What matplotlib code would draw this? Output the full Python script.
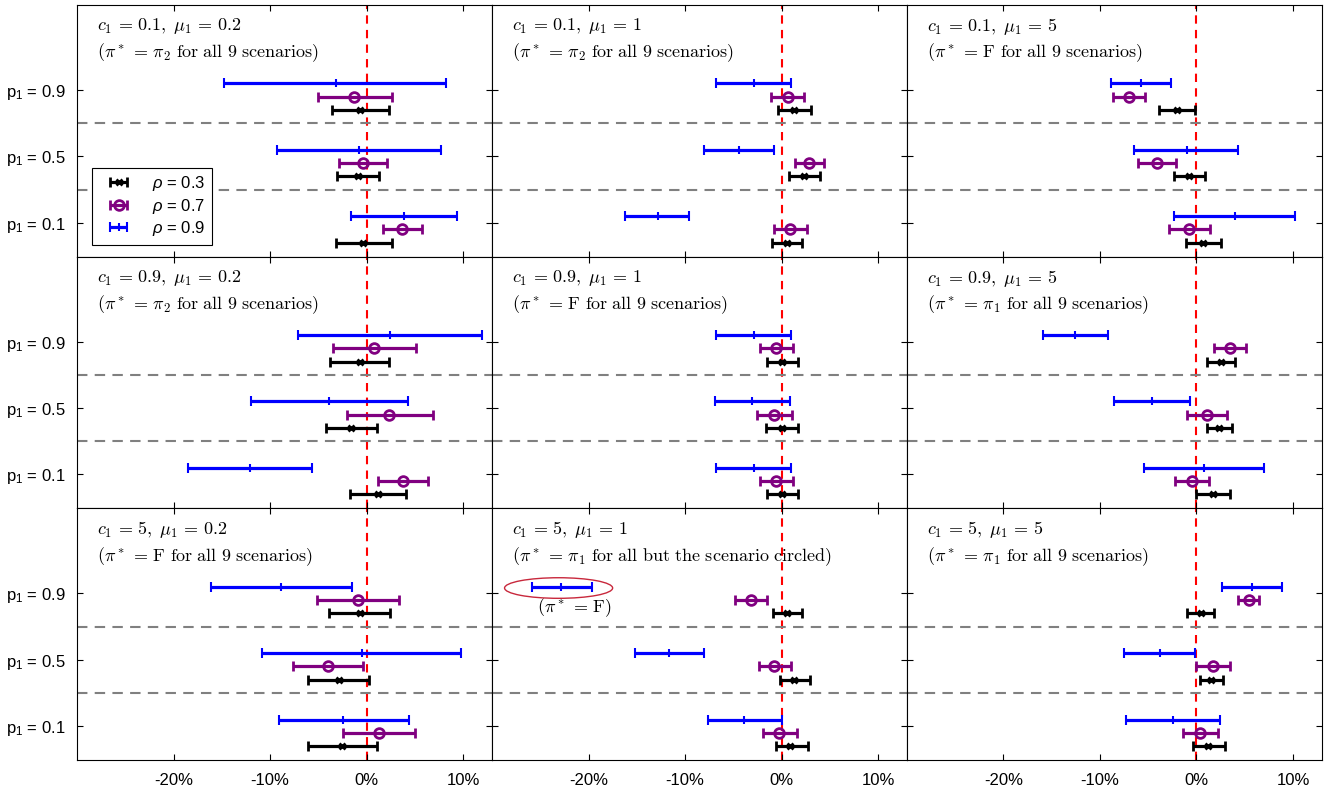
import matplotlib.pyplot as plt
from matplotlib.patches import Ellipse
from matplotlib.ticker import FuncFormatter

plt.rcParams['font.family'] = ['Liberation Sans', 'DejaVu Sans']
plt.rcParams['mathtext.fontset'] = 'custom'
plt.rcParams['mathtext.rm'] = 'Liberation Sans'
plt.rcParams['mathtext.it'] = 'Liberation Sans:italic'

# grid of settings: rows c1, columns mu1
c1_values = ['0.1', '0.9', '5']
mu1_values = ['0.2', '1', '5']
p1_labels = ['p$_1$ = 0.1', 'p$_1$ = 0.5', 'p$_1$ = 0.9']
optimal = [[r'\pi_2', r'\pi_2', r'\mathrm{F}'],
           [r'\pi_2', r'\mathrm{F}', r'\pi_1'],
           [r'\mathrm{F}', r'\pi_1', r'\pi_1']]
rho_labels = [r'$\rho$ = 0.3', r'$\rho$ = 0.7', r'$\rho$ = 0.9']

# per panel (row-major), per p1 (0.1, 0.5, 0.9): (low, mean, high) in %
rho03 = [
    [(-3.18, -0.35, 2.62), (-3.05, -0.93, 1.31), (-3.56, -0.69, 2.28)],
    [(-1.00, 0.52, 2.14), (0.79, 2.31, 4.00), (-0.38, 1.27, 3.04)],
    [(-1.07, 0.69, 2.56), (-2.31, -0.79, 0.87), (-3.87, -2.07, -0.14)],
    [(-1.73, 1.14, 4.08), (-4.21, -1.66, 1.04), (-3.77, -0.69, 2.35)],
    [(-1.55, 0.07, 1.73), (-1.59, 0.00, 1.73), (-1.55, 0.07, 1.73)],
    [(-0.07, 1.73, 3.52), (1.04, 2.35, 3.70), (1.11, 2.59, 4.04)],
    [(-6.11, -2.52, 1.04), (-6.11, -2.90, 0.28), (-3.90, -0.73, 2.45)],
    [(-0.55, 0.93, 2.73), (-0.14, 1.27, 2.93), (-0.90, 0.52, 2.14)],
    [(-0.34, 1.21, 2.94), (0.35, 1.55, 2.76), (-0.97, 0.45, 1.83)],
]
rho07 = [
    [(1.66, 3.69, 5.73), (-2.87, -0.35, 2.07), (-5.00, -1.28, 2.59)],
    [(-0.80, 0.93, 2.66), (1.38, 2.83, 4.38), (-1.04, 0.69, 2.38)],
    [(-2.83, -0.76, 1.45), (-6.01, -4.07, -2.14), (-8.63, -6.97, -5.32)],
    [(1.17, 3.73, 6.39), (-2.07, 2.35, 6.84), (-3.52, 0.79, 5.11)],
    [(-2.28, -0.55, 1.24), (-2.49, -0.73, 1.10), (-2.28, -0.55, 1.24)],
    [(-2.24, -0.48, 1.31), (-0.97, 1.04, 3.18), (1.80, 3.46, 5.08)],
    [(-2.42, 1.28, 5.01), (-7.63, -4.04, -0.38), (-5.18, -0.93, 3.38)],
    [(-1.94, -0.21, 1.59), (-2.35, -0.76, 1.00), (-4.84, -3.21, -1.55)],
    [(-1.38, 0.41, 2.21), (0.00, 1.73, 3.52), (4.29, 5.43, 6.50)],
]
rho09 = [
    [(-1.63, 3.87, 9.33), (-9.29, -0.80, 7.73), (-14.76, -3.21, 8.28)],
    [(-16.20, -12.85, -9.60), (-8.02, -4.39, -0.73), (-6.81, -2.87, 1.03)],
    [(-2.28, 4.01, 10.20), (-6.46, -1.03, 4.29), (-8.84, -5.77, -2.62)],
    [(-18.55, -12.09, -5.66), (-11.99, -3.87, 4.32), (-7.15, 2.42, 11.99)],
    [(-6.81, -2.87, 1.03), (-6.94, -3.04, 0.86), (-6.81, -2.87, 1.03)],
    [(-5.45, 0.80, 7.02), (-8.53, -4.56, -0.62), (-15.89, -12.54, -9.15)],
    [(-9.09, -2.42, 4.35), (-10.88, -0.52, 9.81), (-16.13, -8.85, -1.55)],
    [(-7.67, -3.91, 0.00), (-15.20, -11.65, -8.05), (-25.84, -22.80, -19.69)],
    [(-7.32, -2.42, 2.42), (-7.49, -3.83, -0.14), (2.69, 5.80, 8.91)],
]

series = [rho03, rho07, rho09]
colors = ['black', '#800080', '#0000ff']
offsets = [-0.3, -0.1, 0.1]
styles = [dict(marker='x', ms=4, mew=2),
          dict(marker='o', ms=7, mew=2, mfc='none'),
          dict(marker='|', ms=6, mew=1.5)]

fig, axes = plt.subplots(3, 3, figsize=(13.33, 7.93), dpi=100, sharex=True, sharey=True)
fig.subplots_adjust(left=0.0578, right=0.9917, top=0.9937, bottom=0.0416, hspace=0, wspace=0)

ypos = [1, 2, 3]
for k, ax in enumerate(axes.flat):
    r, c = divmod(k, 3)
    ax.axvline(0, color='red', ls='--', lw=1.5, dashes=(4, 3), zorder=1)
    for yl in (1.5, 2.5):
        ax.axhline(yl, color='gray', ls='--', lw=1.5, dashes=(5, 3.5), zorder=1)
    handles = []
    for s, data in enumerate(series):
        lo = [d[0] for d in data[k]]
        mid = [d[1] for d in data[k]]
        hi = [d[2] for d in data[k]]
        err = [[m - l for m, l in zip(mid, lo)], [h - m for h, m in zip(hi, mid)]]
        h = ax.errorbar(mid, [y + offsets[s] for y in ypos], xerr=err, color=colors[s],
                        lw=2.3, capsize=3.6, capthick=2.3, ls='none', zorder=3, **styles[s])
        handles.append(h)
    ax.text(0.048, 0.915, rf'$c_1\,=\,{c1_values[r]},\; \mu_1\,=\,{mu1_values[c]}$',
            transform=ax.transAxes, fontsize=13, va='center', math_fontfamily='cm')
    if k == 7:
        txt = r'$(\pi^*\,=\,\pi_1\ \mathrm{for\ all\ but\ the\ scenario\ circled})$'
    else:
        txt = rf'$(\pi^*\,=\,{optimal[r][c]}\ \mathrm{{for\ all\ 9\ scenarios}})$'
    ax.text(0.048, 0.81, txt, transform=ax.transAxes, fontsize=13, va='center',
            math_fontfamily='cm')
    ax.tick_params(direction='in', top=True, right=True, length=4, labelsize=12)
    if k == 0:
        leg = ax.legend(handles, rho_labels, loc='lower left', bbox_to_anchor=(0.036, 0.048),
                        borderaxespad=0, fontsize=12, fancybox=False, edgecolor='black',
                        framealpha=1, handlelength=2.4, labelspacing=0.2)
        leg.get_frame().set_linewidth(0.8)
    if k == 7:
        ax.add_patch(Ellipse((-23.1, 3.08), 11.2, 0.31, fill=False, ec='#c8283c', lw=1, zorder=4))
        ax.text(-21.5, 2.78, r'$(\pi^*\,=\,\mathrm{F})$', ha='center', va='center',
                fontsize=13, math_fontfamily='cm')

ax0 = axes[0, 0]
ax0.set_xlim(-30, 13)
ax0.set_ylim(0.49, 4.28)
ax0.set_xticks([-20, -10, 0, 10])
ax0.xaxis.set_major_formatter(FuncFormatter(lambda v, p: f'{v:.0f}%'))
ax0.set_yticks(ypos)
ax0.set_yticklabels(p1_labels)
for ax in axes[:, 0]:
    ax.tick_params(axis='y', pad=8)
for ax in axes[-1, :]:
    ax.tick_params(axis='x', pad=9)

fig.savefig('out.png', dpi=100)
